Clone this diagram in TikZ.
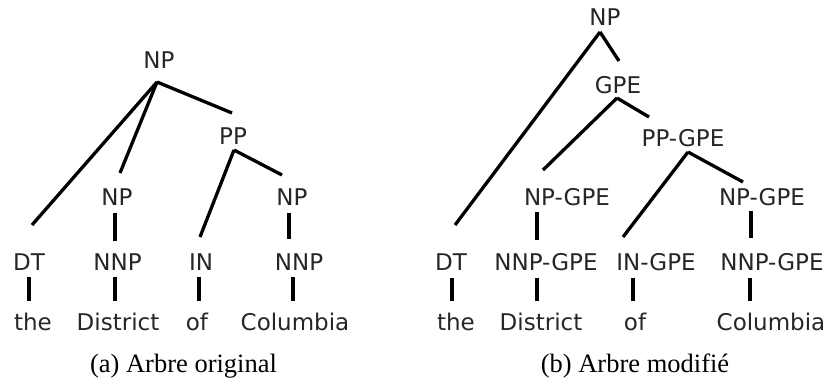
\documentclass[tikz,border=0pt]{standalone}
\usepackage{fontspec}
\setmainfont{Liberation Serif}
\newfontfamily\lblfont{DejaVu Sans}
\begin{document}
\begin{tikzpicture}[x=1pt,y=-1pt,
  lbl/.style={anchor=base,inner sep=0pt,font=\lblfont\fontsize{23}{23}\selectfont,text=black!85},
  captxt/.style={anchor=base,inner sep=0pt,font=\fontsize{26.5}{26.5}\selectfont,text=black},
  treeline/.style={line width=3.3pt,black}]
\useasboundingbox (0,0) rectangle (829,380);
% ---------- left tree ----------
\node[lbl] (aNP) at (159,68) {NP};
\node[lbl] (aPP) at (233,144) {PP};
\node[lbl] (aNPm) at (117,205) {NP};
\node[lbl] (aNPr) at (292,205) {NP};
\node[lbl] (aDT) at (29,270) {DT};
\node[lbl] (aNNP1) at (117.5,270) {NNP};
\node[lbl] (aIN) at (201,270) {IN};
\node[lbl] (aNNP2) at (299,270) {NNP};
\node[lbl] (athe) at (33,330) {the};
\node[lbl] (aDist) at (118,330) {District};
\node[lbl] (aof) at (197,330) {of};
\node[lbl] (aCol) at (295,330) {Columbia};
\node[captxt] (capa) at (183.5,372) {(a) Arbre original};
\coordinate (aTop) at (157,82);
\coordinate (aPPin) at (232,113);
\coordinate (aPPout) at (234,150);
\coordinate (aNPrin) at (282,175);
\coordinate (aINin) at (200,237);
\coordinate (aNPmin) at (120,173);
\coordinate (aDTin) at (32,225);
\draw[treeline] (aTop) -- (aPPin);
\draw[treeline] (aTop) -- (aNPmin);
\draw[treeline] (aTop) -- (aDTin);
\draw[treeline] (aPPout) -- (aNPrin);
\draw[treeline] (aPPout) -- (aINin);
\draw[treeline] (115,213) coordinate (aNPmo) -- (115,241) coordinate (aNNP1i);
\draw[treeline] (289,213) coordinate (aNPro) -- (289,239) coordinate (aNNP2i);
\draw[treeline] (29,277) coordinate (aDTo) -- (29,301) coordinate (athei);
\draw[treeline] (115,277) coordinate (aNNP1o) -- (115,301) coordinate (aDisti);
\draw[treeline] (199,277) coordinate (aINo) -- (199,301) coordinate (aofi);
\draw[treeline] (293,277) coordinate (aNNP2o) -- (293,301) coordinate (aColi);
% ---------- right tree ----------
\node[lbl] (bNP) at (605,25) {NP};
\node[lbl] (bGPE) at (618,93) {GPE};
\node[lbl] (bPP) at (683,146) {PP-GPE};
\node[lbl] (bNPl) at (567,205) {NP-GPE};
\node[lbl] (bNPr) at (762,205) {NP-GPE};
\node[lbl] (bDT) at (451,270) {DT};
\node[lbl] (bNNP1) at (546,270) {NNP-GPE};
\node[lbl] (bIN) at (656,270) {IN-GPE};
\node[lbl] (bNNP2) at (772,270) {NNP-GPE};
\node[lbl] (bthe) at (456,330) {the};
\node[lbl] (bDist) at (541,330) {District};
\node[lbl] (bof) at (635,330) {of};
\node[lbl] (bCol) at (771,330) {Columbia};
\node[captxt] (capb) at (635,372) {(b) Arbre modifié};
\coordinate (bTop) at (600,32);
\coordinate (bGPEin) at (619,61);
\coordinate (bDTin) at (455,225);
\coordinate (bGPEout) at (617,98);
\coordinate (bNPlin) at (543,170);
\coordinate (bPPin) at (649,117);
\coordinate (bPPout) at (688,152);
\coordinate (bINin) at (623,237);
\coordinate (bNPrin) at (743,182);
\draw[treeline] (bTop) -- (bGPEin);
\draw[treeline] (bTop) -- (bDTin);
\draw[treeline] (bGPEout) -- (bNPlin);
\draw[treeline] (bGPEout) -- (bPPin);
\draw[treeline] (bPPout) -- (bINin);
\draw[treeline] (bPPout) -- (bNPrin);
\draw[treeline] (537,212) coordinate (bNPlo) -- (537,240) coordinate (bNNP1i);
\draw[treeline] (751,211) coordinate (bNPro) -- (751,238) coordinate (bNNP2i);
\draw[treeline] (452,278) coordinate (bDTo) -- (452,301) coordinate (bthei);
\draw[treeline] (537,278) coordinate (bNNP1o) -- (537,301) coordinate (bDisti);
\draw[treeline] (633,278) coordinate (bINo) -- (633,301) coordinate (bofi);
\draw[treeline] (750,278) coordinate (bNNP2o) -- (750,301) coordinate (bColi);
\end{tikzpicture}
\end{document}
